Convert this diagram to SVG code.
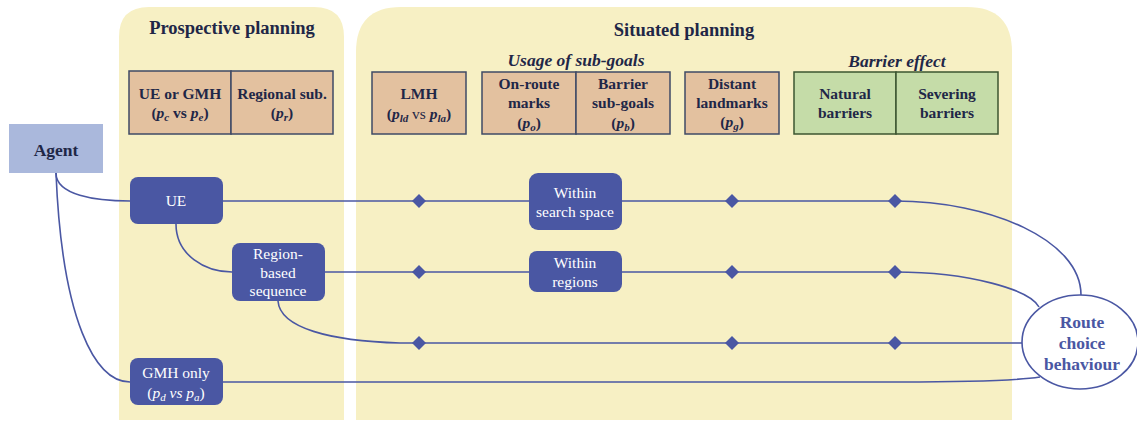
<svg xmlns="http://www.w3.org/2000/svg" width="1137" height="425" viewBox="0 0 1137 425" font-family="'Liberation Serif', 'Times New Roman', serif">
<defs>
<style>
text{font-family:'Liberation Serif','Times New Roman',serif}
.panel{fill:#f7f0c4;stroke:none}
.title{font-weight:bold;font-size:18.5px;fill:#1f2747;text-anchor:middle}
.sub{font-weight:bold;font-style:italic;font-size:17.5px;fill:#1f2747;text-anchor:middle}
.tan{fill:#e3c19f;stroke:#3f4a66;stroke-width:1.5}
.grn{fill:#c5dca8;stroke:#3c5530;stroke-width:1.5}
.bt{font-weight:bold;font-size:15.5px;fill:#1f2747;text-anchor:middle}
.bi{font-style:italic}
.node{fill:#4a57a3;stroke:none}
.nt{font-size:15.5px;fill:#ffffff;text-anchor:middle}
.rc{font-weight:bold;font-size:17.5px;fill:#4a57a3;text-anchor:middle}
.con{fill:none;stroke:#4a57a3;stroke-width:1.6}
.dia{fill:#4a57a3}
</style>
</defs>
<rect width="1137" height="425" fill="#ffffff"/>
<g id="panel-prospective">
<path class="panel" d="M119,420 L119,37 Q119,7 149,7 L314,7 Q344,7 344,37 L344,420 Z"/>
<text class="title" x="232" y="34">Prospective planning</text>
</g>
<g id="panel-situated">
<path class="panel" d="M356,420 L356,52 Q356,7 401,7 L967,7 Q1012,7 1012,52 L1012,420 Z"/>
<text class="title" x="684" y="36">Situated planning</text>
<text class="sub" x="576" y="66">Usage of sub-goals</text>
<text class="sub" x="897" y="67">Barrier effect</text>
</g>
<g id="box-ue-gmh">
<rect class="tan" x="129" y="71" width="102" height="63"/>
<text class="bt" x="180" y="99">UE or GMH</text>
<text class="bt" x="180" y="118">(<tspan class="bi">p</tspan><tspan class="bi" font-size="11" dy="3">c</tspan><tspan dy="-3"> vs </tspan><tspan class="bi">p</tspan><tspan class="bi" font-size="11" dy="3">e</tspan><tspan dy="-3">)</tspan></text>
</g>
<g id="box-regional">
<rect class="tan" x="231" y="71" width="102" height="63"/>
<text class="bt" x="282" y="99">Regional sub.</text>
<text class="bt" x="282" y="118">(<tspan class="bi">p</tspan><tspan class="bi" font-size="11" dy="3">r</tspan><tspan dy="-3">)</tspan></text>
</g>
<g id="box-lmh">
<rect class="tan" x="372" y="72" width="94" height="62"/>
<text class="bt" x="419" y="99">LMH</text>
<text class="bt" x="419" y="119">(<tspan class="bi">p</tspan><tspan class="bi" font-size="11" dy="3">ld</tspan><tspan dy="-3" font-weight="normal"> vs </tspan><tspan class="bi">p</tspan><tspan class="bi" font-size="11" dy="3">la</tspan><tspan dy="-3">)</tspan></text>
</g>
<g id="box-onroute">
<rect class="tan" x="482" y="72" width="94" height="62"/>
<text class="bt" x="529" y="89">On-route</text>
<text class="bt" x="529" y="108">marks</text>
<text class="bt" x="529" y="128">(<tspan class="bi">p</tspan><tspan class="bi" font-size="11" dy="3">o</tspan><tspan dy="-3">)</tspan></text>
</g>
<g id="box-barrier-subgoals">
<rect class="tan" x="576" y="72" width="94" height="62"/>
<text class="bt" x="623" y="89">Barrier</text>
<text class="bt" x="623" y="108">sub-goals</text>
<text class="bt" x="623" y="128">(<tspan class="bi">p</tspan><tspan class="bi" font-size="11" dy="3">b</tspan><tspan dy="-3">)</tspan></text>
</g>
<g id="box-distant">
<rect class="tan" x="685" y="72" width="94" height="62"/>
<text class="bt" x="732" y="89">Distant</text>
<text class="bt" x="732" y="108">landmarks</text>
<text class="bt" x="732" y="127">(<tspan class="bi">p</tspan><tspan class="bi" font-size="11" dy="3">g</tspan><tspan dy="-3">)</tspan></text>
</g>
<g id="box-natural">
<rect class="grn" x="794" y="72" width="102" height="62"/>
<text class="bt" x="845" y="99">Natural</text>
<text class="bt" x="845" y="118">barriers</text>
</g>
<g id="box-severing">
<rect class="grn" x="896" y="72" width="102" height="62"/>
<text class="bt" x="947" y="99">Severing</text>
<text class="bt" x="947" y="118">barriers</text>
</g>
<g id="connectors">
<path class="con" d="M56,173 C56,195 95,201 130,201"/>
<path class="con" d="M56,173 C62,320 95,382 130,382"/>
<path class="con" d="M176,224 C176,255 205,272 232,272"/>
<path class="con" d="M223,201 L529,201"/>
<path class="con" d="M622,201 L895,201 C990,201 1081,240 1081,295"/>
<path class="con" d="M325,272 L529,272"/>
<path class="con" d="M622,272 L895,272 C970,272 1030,290 1039,307"/>
<path class="con" d="M278,301 C280,328 330,341 400,343 L1022,343"/>
<path class="con" d="M223,382 L900,382 C975,382 1020,380 1040,377"/>
<g id="diamonds">
<path class="dia" d="M419,194 L426,201 L419,208 L412,201 Z"/>
<path class="dia" d="M732,194 L739,201 L732,208 L725,201 Z"/>
<path class="dia" d="M895,194 L902,201 L895,208 L888,201 Z"/>
<path class="dia" d="M419,265 L426,272 L419,279 L412,272 Z"/>
<path class="dia" d="M732,265 L739,272 L732,279 L725,272 Z"/>
<path class="dia" d="M895,265 L902,272 L895,279 L888,272 Z"/>
<path class="dia" d="M419,336 L426,343 L419,350 L412,343 Z"/>
<path class="dia" d="M732,336 L739,343 L732,350 L725,343 Z"/>
<path class="dia" d="M895,336 L902,343 L895,350 L888,343 Z"/>
</g>
</g>
<g id="node-agent">
<rect x="9" y="124" width="94" height="49" fill="#aab8dc"/>
<text x="56" y="156" font-weight="bold" font-size="17.5" fill="#1f2747" text-anchor="middle">Agent</text>
</g>
<g id="node-ue">
<rect class="node" x="130" y="177" width="93" height="47" rx="8"/>
<text class="nt" x="176" y="206">UE</text>
</g>
<g id="node-region">
<rect class="node" x="232" y="243" width="93" height="58" rx="8"/>
<text class="nt" x="278" y="259">Region-</text>
<text class="nt" x="278" y="278">based</text>
<text class="nt" x="278" y="296">sequence</text>
</g>
<g id="node-gmh">
<rect class="node" x="130" y="358" width="93" height="47" rx="8"/>
<text class="nt" x="176" y="378">GMH only</text>
<text class="nt" x="176" y="398">(<tspan font-style="italic">p</tspan><tspan font-style="italic" font-size="11" dy="3">d</tspan><tspan font-style="italic" dy="-3"> vs </tspan><tspan font-style="italic">p</tspan><tspan font-style="italic" font-size="11" dy="3">a</tspan><tspan dy="-3">)</tspan></text>
</g>
<g id="node-within-search">
<rect class="node" x="529" y="173" width="93" height="57" rx="9"/>
<text class="nt" x="575" y="198">Within</text>
<text class="nt" x="575" y="217">search space</text>
</g>
<g id="node-within-regions">
<rect class="node" x="529" y="251" width="93" height="41" rx="8"/>
<text class="nt" x="575" y="268">Within</text>
<text class="nt" x="575" y="287">regions</text>
</g>
<g id="node-route">
<ellipse cx="1080" cy="342" rx="58" ry="47" fill="#ffffff" stroke="#4a57a3" stroke-width="1.6"/>
<text class="rc" x="1082" y="328">Route</text>
<text class="rc" x="1082" y="349">choice</text>
<text class="rc" x="1082" y="370">behaviour</text>
</g>
</svg>
